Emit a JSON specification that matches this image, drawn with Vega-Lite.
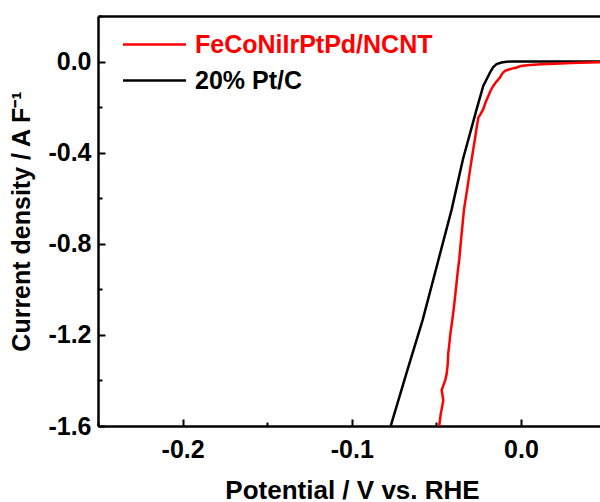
{
  "$schema": "https://vega.github.io/schema/vega-lite/v6.json",
  "width": 502,
  "height": 410,
  "autosize": {"type": "none"},
  "padding": {"left": 98, "top": 16, "right": 0, "bottom": 76},
  "background": "white",
  "config": {"view": {"stroke": null}, "font": "Liberation Sans"},
  "data": {"values": [
    {"i": 1, "series": "20% Pt/C", "x": 0.05, "y": 0.0},
    {"i": 2, "series": "20% Pt/C", "x": 0.0, "y": 0.0},
    {"i": 3, "series": "20% Pt/C", "x": -0.006, "y": 0.0},
    {"i": 4, "series": "20% Pt/C", "x": -0.0085, "y": -0.001},
    {"i": 5, "series": "20% Pt/C", "x": -0.0115, "y": -0.004},
    {"i": 6, "series": "20% Pt/C", "x": -0.0144, "y": -0.011},
    {"i": 7, "series": "20% Pt/C", "x": -0.0165, "y": -0.025},
    {"i": 8, "series": "20% Pt/C", "x": -0.0183, "y": -0.048},
    {"i": 9, "series": "20% Pt/C", "x": -0.0223, "y": -0.107},
    {"i": 10, "series": "20% Pt/C", "x": -0.0262, "y": -0.209},
    {"i": 11, "series": "20% Pt/C", "x": -0.0343, "y": -0.429},
    {"i": 12, "series": "20% Pt/C", "x": -0.041, "y": -0.65},
    {"i": 13, "series": "20% Pt/C", "x": -0.05, "y": -0.905},
    {"i": 14, "series": "20% Pt/C", "x": -0.0581, "y": -1.134},
    {"i": 15, "series": "20% Pt/C", "x": -0.0675, "y": -1.363},
    {"i": 16, "series": "20% Pt/C", "x": -0.0772, "y": -1.605},
    {"i": 101, "series": "FeCoNiIrPtPd/NCNT", "x": 0.05, "y": -0.002},
    {"i": 102, "series": "FeCoNiIrPtPd/NCNT", "x": 0.04, "y": -0.004},
    {"i": 103, "series": "FeCoNiIrPtPd/NCNT", "x": 0.03, "y": -0.006},
    {"i": 104, "series": "FeCoNiIrPtPd/NCNT", "x": 0.02, "y": -0.01},
    {"i": 105, "series": "FeCoNiIrPtPd/NCNT", "x": 0.012, "y": -0.012},
    {"i": 106, "series": "FeCoNiIrPtPd/NCNT", "x": 0.005, "y": -0.015},
    {"i": 107, "series": "FeCoNiIrPtPd/NCNT", "x": 0.0, "y": -0.019},
    {"i": 108, "series": "FeCoNiIrPtPd/NCNT", "x": -0.0025, "y": -0.026},
    {"i": 109, "series": "FeCoNiIrPtPd/NCNT", "x": -0.006, "y": -0.032},
    {"i": 110, "series": "FeCoNiIrPtPd/NCNT", "x": -0.0095, "y": -0.041},
    {"i": 111, "series": "FeCoNiIrPtPd/NCNT", "x": -0.011, "y": -0.052},
    {"i": 112, "series": "FeCoNiIrPtPd/NCNT", "x": -0.0124, "y": -0.07},
    {"i": 113, "series": "FeCoNiIrPtPd/NCNT", "x": -0.0145, "y": -0.088},
    {"i": 114, "series": "FeCoNiIrPtPd/NCNT", "x": -0.0164, "y": -0.107},
    {"i": 115, "series": "FeCoNiIrPtPd/NCNT", "x": -0.018, "y": -0.128},
    {"i": 116, "series": "FeCoNiIrPtPd/NCNT", "x": -0.0193, "y": -0.151},
    {"i": 117, "series": "FeCoNiIrPtPd/NCNT", "x": -0.021, "y": -0.18},
    {"i": 118, "series": "FeCoNiIrPtPd/NCNT", "x": -0.0223, "y": -0.209},
    {"i": 119, "series": "FeCoNiIrPtPd/NCNT", "x": -0.024, "y": -0.232},
    {"i": 120, "series": "FeCoNiIrPtPd/NCNT", "x": -0.0252, "y": -0.246},
    {"i": 121, "series": "FeCoNiIrPtPd/NCNT", "x": -0.0262, "y": -0.29},
    {"i": 122, "series": "FeCoNiIrPtPd/NCNT", "x": -0.0272, "y": -0.34},
    {"i": 123, "series": "FeCoNiIrPtPd/NCNT", "x": -0.0282, "y": -0.385},
    {"i": 124, "series": "FeCoNiIrPtPd/NCNT", "x": -0.03, "y": -0.47},
    {"i": 125, "series": "FeCoNiIrPtPd/NCNT", "x": -0.0318, "y": -0.56},
    {"i": 126, "series": "FeCoNiIrPtPd/NCNT", "x": -0.0337, "y": -0.65},
    {"i": 127, "series": "FeCoNiIrPtPd/NCNT", "x": -0.035, "y": -0.75},
    {"i": 128, "series": "FeCoNiIrPtPd/NCNT", "x": -0.0359, "y": -0.82},
    {"i": 129, "series": "FeCoNiIrPtPd/NCNT", "x": -0.0365, "y": -0.87},
    {"i": 130, "series": "FeCoNiIrPtPd/NCNT", "x": -0.0375, "y": -0.93},
    {"i": 131, "series": "FeCoNiIrPtPd/NCNT", "x": -0.0382, "y": -0.98},
    {"i": 132, "series": "FeCoNiIrPtPd/NCNT", "x": -0.0392, "y": -1.05},
    {"i": 133, "series": "FeCoNiIrPtPd/NCNT", "x": -0.04, "y": -1.1},
    {"i": 134, "series": "FeCoNiIrPtPd/NCNT", "x": -0.0406, "y": -1.134},
    {"i": 135, "series": "FeCoNiIrPtPd/NCNT", "x": -0.0418, "y": -1.2},
    {"i": 136, "series": "FeCoNiIrPtPd/NCNT", "x": -0.0425, "y": -1.25},
    {"i": 137, "series": "FeCoNiIrPtPd/NCNT", "x": -0.043, "y": -1.281},
    {"i": 138, "series": "FeCoNiIrPtPd/NCNT", "x": -0.0433, "y": -1.33},
    {"i": 139, "series": "FeCoNiIrPtPd/NCNT", "x": -0.044, "y": -1.374},
    {"i": 140, "series": "FeCoNiIrPtPd/NCNT", "x": -0.0448, "y": -1.4},
    {"i": 141, "series": "FeCoNiIrPtPd/NCNT", "x": -0.0469, "y": -1.442},
    {"i": 142, "series": "FeCoNiIrPtPd/NCNT", "x": -0.0459, "y": -1.487},
    {"i": 143, "series": "FeCoNiIrPtPd/NCNT", "x": -0.0475, "y": -1.55},
    {"i": 144, "series": "FeCoNiIrPtPd/NCNT", "x": -0.0484, "y": -1.605}
  ]},
  "mark": {"type": "line", "strokeWidth": 2.5, "clip": true},
  "encoding": {
    "x": {
      "field": "x", "type": "quantitative",
      "scale": {"domain": [-0.25, 0.0467], "nice": false, "zero": false},
      "axis": {
        "values": [-0.25, -0.2, -0.15, -0.1, -0.05, 0],
        "labelExpr": "abs(round(datum.value*100))%10==0 ? replace(format(datum.value,'.1f'), '\u2212', '-') : ''",
        "tickSize": {"condition": {"test": "abs(round(datum.value*100))%10==0", "value": -7}, "value": -4},
        "tickWidth": 2, "tickColor": "black",
        "domainColor": "black", "domainWidth": 2.5,
        "labelFont": "Liberation Sans", "labelFontSize": 25, "labelFontWeight": "bold", "labelColor": "black",
        "labelPadding": 18, "labelFlush": false, "labelOverlap": false, "labelBound": false,
        "title": "Potential / V vs. RHE",
        "titleFont": "Liberation Sans", "titleFontSize": 26, "titleFontWeight": "bold", "titleColor": "black",
        "titleX": 254, "titleY": 72, "titleBaseline": "alphabetic",
        "grid": false
      }
    },
    "y": {
      "field": "y", "type": "quantitative",
      "scale": {"domain": [-1.6, 0.2], "nice": false, "zero": false},
      "axis": {
        "values": [-1.6, -1.4, -1.2, -1.0, -0.8, -0.6, -0.4, -0.2, 0, 0.2],
        "labelExpr": "(abs(round(datum.value*10))%4==0 && datum.value < 0.1) ? replace(format(datum.value,'.1f'), '\u2212', '-') : ''",
        "tickSize": {"condition": {"test": "abs(round(datum.value*10))%4==0", "value": -7}, "value": -4},
        "tickWidth": 2, "tickColor": "black",
        "domainColor": "black", "domainWidth": 2.5,
        "labelFont": "Liberation Sans", "labelFontSize": 25, "labelFontWeight": "bold", "labelColor": "black",
        "labelPadding": 14, "labelFlush": false, "labelOverlap": false, "labelBound": false,
        "title": "Current density / A F⁻¹",
        "titleFont": "Liberation Sans", "titleFontSize": 25, "titleFontWeight": "bold", "titleColor": "black",
        "titleX": -69, "titleBaseline": "alphabetic",
        "grid": true, "gridColor": "black", "gridWidth": 2.5,
        "gridOpacity": {"condition": {"test": "datum.value > 0.1", "value": 1}, "value": 0}
      }
    },
    "color": {
      "field": "series", "type": "nominal",
      "scale": {"domain": ["FeCoNiIrPtPd/NCNT", "20% Pt/C"], "range": ["#ff0000", "#000000"]},
      "legend": {
        "orient": "none", "legendX": 44, "legendY": 16, "title": null, "padding": 0,
        "symbolType": "M-3,0H3", "symbolSize": 441, "symbolStrokeWidth": 2.5, "symbolFillColor": "transparent",
        "labelFont": "Liberation Sans", "labelFontSize": 25, "labelFontWeight": "bold", "labelLimit": 0,
        "labelOffset": 28, "rowPadding": 10,
        "encode": {"labels": {"update": {"fill": {"signal": "datum.value === '20% Pt/C' ? '#000000' : '#ff0000'"}}}}
      }
    },
    "order": {"field": "i", "type": "quantitative"}
  }
}
